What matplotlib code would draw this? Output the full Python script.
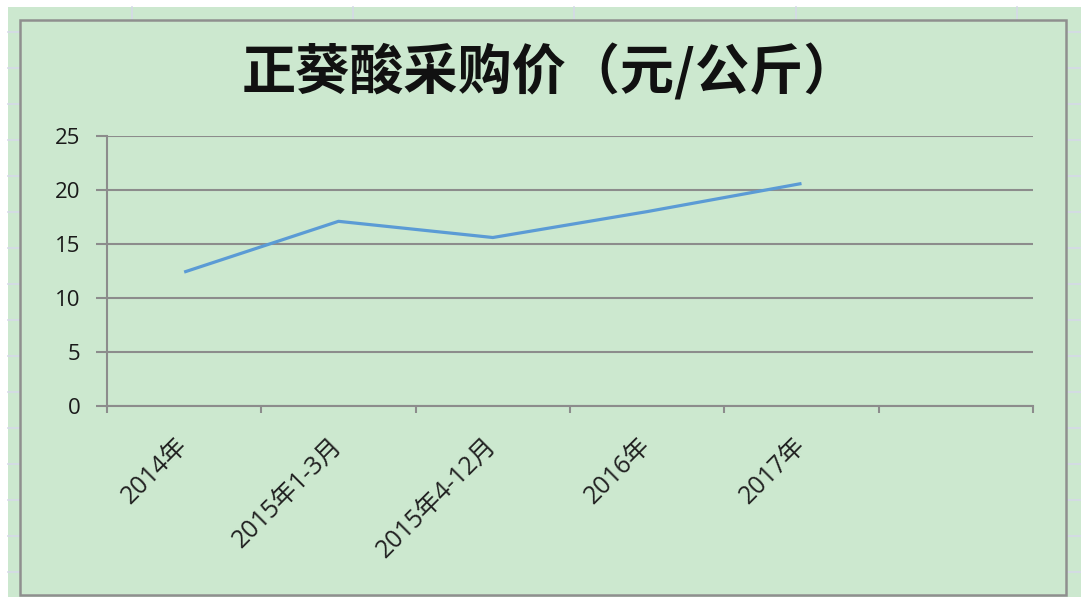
import matplotlib
matplotlib.use('Agg')
import matplotlib.pyplot as plt
from matplotlib.patches import Rectangle
from matplotlib.lines import Line2D

plt.rcParams['font.family'] = ['Open Sans', 'Noto Sans CJK SC', 'DejaVu Sans']

# data
categories = ['2014年', '2015年1-3月', '2015年4-12月', '2016年', '2017年']
prices = [12.4, 17.1, 15.6, 18.0, 20.6]
n_slots = 6  # excel left one empty category at the end
yticks = [0, 5, 10, 15, 20, 25]
title = '正葵酸采购价（元/公斤）'

W, H = 1081, 597
bg = '#CCE8CF'
grey = '#8C8C8C'

fig = plt.figure(figsize=(W / 100, H / 100), dpi=100, facecolor='white')

# sheet background + faint spreadsheet gridlines
fig.patches.append(Rectangle((8 / W, 0), 1 - 8 / W, 1 - 7 / H, transform=fig.transFigure,
                             facecolor=bg, edgecolor='none', zorder=0))
for yy in range(32, 597, 36):
    fig.lines.append(Line2D([8 / W, 20 / W], [1 - yy / H] * 2, transform=fig.transFigure,
                            color='#D5D9E8', lw=1.2, zorder=0.5))
    fig.lines.append(Line2D([1066 / W, 1], [1 - yy / H] * 2, transform=fig.transFigure,
                            color='#D5D9E8', lw=1.2, zorder=0.5))
for xx in [132, 353, 574, 796, 1017]:
    fig.lines.append(Line2D([xx / W] * 2, [1 - 7 / H, 1 - 20 / H], transform=fig.transFigure,
                            color='#D5D9E8', lw=1.2, zorder=0.5))

# chart frame
fig.patches.append(Rectangle((20 / W, 1 - 595 / H), 1046 / W, 575 / H, transform=fig.transFigure,
                             facecolor=bg, edgecolor='#8F8F8F', lw=1.8, zorder=1))

ax = fig.add_axes([107 / W, 1 - 406 / H, 926 / W, 270 / H])
ax.set_facecolor('none')
ax.set_zorder(2)

x = list(range(len(prices)))
ax.plot(x, prices, color='#5B9BD5', lw=2.3, solid_capstyle='butt', zorder=3)

ax.set_xlim(-0.5, n_slots - 0.5)
ax.set_ylim(0, 25)
ax.set_yticks(yticks)
ax.yaxis.grid(True, color=grey, lw=1.5)
ax.set_axisbelow(True)

for s in ['top', 'right']:
    ax.spines[s].set_visible(False)
for s in ['left', 'bottom']:
    ax.spines[s].set_color(grey)
    ax.spines[s].set_linewidth(1.5)

ax.tick_params(axis='y', length=8, width=1.5, color=grey, pad=11, labelsize=16, labelcolor='#1a1a1a')
ax.set_xticks(x)
ax.set_xticklabels(categories, rotation=45, ha='right', va='center', rotation_mode='anchor')
ax.tick_params(axis='x', which='major', length=0, pad=26, labelsize=18, labelcolor='#222222')
ax.set_xticks([i - 0.5 for i in range(n_slots + 1)], minor=True)
ax.tick_params(axis='x', which='minor', length=5, width=1.5, color=grey)

fig.text(550 / W, 1 - 73 / H, title, ha='center', va='center', fontsize=39,
         fontweight='bold', family=['Noto Sans CJK SC', 'DejaVu Sans'], color='#111111')

fig.savefig('out.png', dpi=100, facecolor=fig.get_facecolor())
